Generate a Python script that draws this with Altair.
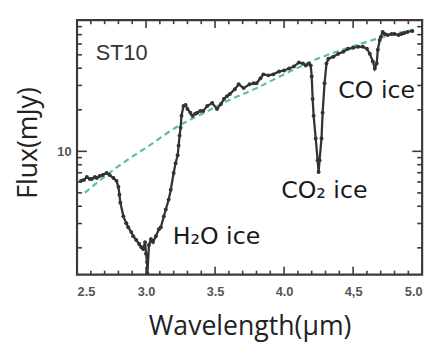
import altair as alt
import pandas as pd

# Spectrum of ST10 (wavelength in micron, flux in mJy)
wavelength = [2.529, 2.550, 2.571, 2.593, 2.607, 2.629, 2.643, 2.664, 2.686, 2.714,
              2.736, 2.764, 2.786, 2.800, 2.807, 2.814, 2.836, 2.857, 2.871, 2.893,
              2.907, 2.929, 2.950, 2.964, 2.979, 2.993, 3.000, 3.007, 3.010, 3.021,
              3.036, 3.050, 3.071, 3.093, 3.107, 3.129, 3.143, 3.164, 3.179, 3.200,
              3.214, 3.229, 3.236, 3.243, 3.250, 3.257, 3.271, 3.286, 3.300, 3.321,
              3.336, 3.357, 3.371, 3.393, 3.414, 3.443, 3.479, 3.514, 3.543, 3.564,
              3.586, 3.607, 3.643, 3.671, 3.707, 3.750, 3.779, 3.800, 3.829, 3.850,
              3.886, 3.921, 3.964, 4.000, 4.036, 4.071, 4.107, 4.136, 4.157, 4.179,
              4.193, 4.200, 4.207, 4.214, 4.229, 4.243, 4.250, 4.257, 4.271, 4.279,
              4.293, 4.307, 4.321, 4.357, 4.393, 4.429, 4.464, 4.500, 4.536, 4.571,
              4.600, 4.621, 4.643, 4.657, 4.671, 4.679, 4.693, 4.700, 4.714, 4.729,
              4.750, 4.779, 4.800, 4.829, 4.850, 4.871, 4.893, 4.929]
flux = [6.11, 6.21, 6.52, 6.31, 6.31, 6.52, 6.41, 6.63, 6.74, 6.96,
        6.74, 6.41, 6.11, 5.53, 4.85, 4.25, 3.38, 3.01, 2.82, 2.60,
        2.43, 2.28, 2.13, 2.03, 1.96, 2.20, 1.81, 1.58, 1.30, 2.10,
        2.31, 2.20, 2.43, 2.73, 2.82, 3.38, 3.79, 4.47, 5.27, 6.96,
        8.21, 9.36, 11.0, 13.0, 14.8, 18.1, 21.3, 21.7, 20.3, 19.0,
        18.1, 18.7, 19.0, 19.6, 19.6, 21.3, 22.4, 20.3, 22.0, 23.9,
        25.1, 26.0, 28.2, 30.6, 28.7, 30.6, 31.1, 31.1, 33.8, 36.1,
        35.5, 36.1, 37.9, 38.5, 39.8, 41.1, 44.0, 43.2, 41.8, 43.2,
        41.8, 34.9, 23.9, 18.1, 12.4, 8.62, 7.08, 8.62, 12.4, 19.0,
        31.1, 43.2, 46.9, 48.5, 50.9, 52.6, 55.3, 56.2, 57.2, 57.2,
        55.3, 50.9, 44.7, 39.8, 43.2, 54.4, 64.1, 67.4, 73.2, 70.8,
        69.6, 70.8, 70.8, 69.6, 70.8, 72.0, 73.2, 74.4]

# Continuum (dashed)
cont_wavelength = [2.557, 2.679, 2.800, 3.014, 3.250, 3.407, 3.586, 3.800,
                   4.014, 4.229, 4.443, 4.621, 4.764, 4.929]
cont_flux = [5.01, 6.31, 7.81, 10.86, 15.6, 18.7, 23.1, 28.7,
             36.7, 46.2, 55.3, 63.1, 69.6, 75.6]

# Tick values
x_major = [2.5, 3.0, 3.5, 4.0, 4.5, 5.0]
x_minor = [2.6, 2.7, 2.8, 2.9, 3.1, 3.2, 3.3, 3.4, 3.6, 3.7, 3.8, 3.9,
           4.1, 4.2, 4.3, 4.4, 4.6, 4.7, 4.8, 4.9]
y_major = [10]
y_minor = [2, 3, 4, 5, 6, 7, 8, 9, 20, 30, 40, 50, 60, 70, 80]

# Annotations
title_text = ["ST10"]
title_x = [2.636]
title_y = [46.2]
ann_text = ["H\u2082O ice", "CO\u2082 ice", "CO ice"]
ann_x = [3.193, 3.979, 4.393]
ann_y = [2.13, 4.61, 24.3]

W, H = 350, 258
xs = alt.Scale(domain=[2.5, 5.0], nice=False, zero=False)
ys = alt.Scale(type="log", domain=[1.28, 89.1], nice=False)
FRAME = "#3a3a3a"

spec = pd.DataFrame({"w": wavelength, "f": flux})
cont = pd.DataFrame({"w": cont_wavelength, "f": cont_flux})

axis_x = alt.Axis(values=x_major, labelExpr="datum.value == 4.5 ? '4,5' : format(datum.value, '.1f')",
                  tickSize=0, domain=False, grid=False, labelFont="Liberation Sans",
                  labelFontWeight="bold", labelFontSize=13, labelColor="#555",
                  labelPadding=11, title="Wavelength(\u00b5m)", titleFont="Open Sans",
                  titleFontSize=27, titleFontWeight="normal", titleColor="#222",
                  titlePadding=16)
axis_y = alt.Axis(values=y_major, format="d", tickSize=0, domain=False, grid=False,
                  labelFont="Liberation Sans", labelFontWeight="bold", labelFontSize=13,
                  labelColor="#555", labelPadding=6, title="Flux(mJy)",
                  titleFont="Open Sans", titleFontSize=27, titleFontWeight="normal",
                  titleColor="#222", titlePadding=15, titleY=124)

X = lambda f: alt.X(f, scale=xs, axis=axis_x)
Y = lambda f: alt.Y(f, scale=ys, axis=axis_y)

line = alt.Chart(spec).mark_line(
    color="#333", strokeWidth=2.3, clip=True,
    point=alt.OverlayMarkDef(filled=True, size=16, color="#333")
).encode(x=X("w:Q"), y=Y("f:Q"), order="w:Q")

dashed = alt.Chart(cont).mark_line(
    color="#5bbcae", strokeWidth=2.2, strokeDash=[6, 4], interpolate="monotone"
).encode(x=X("w:Q"), y=Y("f:Q"))


def xticks(vals, length):
    d = pd.DataFrame({"v": vals})
    bottom = alt.Chart(d).mark_rule(color=FRAME, strokeWidth=1.6).encode(
        x=X("v:Q"), y=alt.value(H), y2=alt.value(H - length))
    top = alt.Chart(d).mark_rule(color=FRAME, strokeWidth=1.6).encode(
        x=X("v:Q"), y=alt.value(0), y2=alt.value(length))
    return [bottom, top]


def yticks(vals, length):
    d = pd.DataFrame({"v": vals})
    left = alt.Chart(d).mark_rule(color=FRAME, strokeWidth=1.6).encode(
        y=Y("v:Q"), x=alt.value(0), x2=alt.value(length))
    right = alt.Chart(d).mark_rule(color=FRAME, strokeWidth=1.6).encode(
        y=Y("v:Q"), x=alt.value(W), x2=alt.value(W - length))
    return [left, right]


st = alt.Chart(pd.DataFrame({"t": title_text, "x": title_x, "y": title_y})).mark_text(
    font="Liberation Sans", fontSize=22, color="#333", align="left", baseline="alphabetic"
).encode(x=X("x:Q"), y=Y("y:Q"), text="t:N")

ann = alt.Chart(pd.DataFrame({"t": ann_text, "x": ann_x, "y": ann_y})).mark_text(
    font="DejaVu Sans", fontSize=24, color="#1a1a1a", align="left", baseline="alphabetic"
).encode(x=X("x:Q"), y=Y("y:Q"), text="t:N")

layers = [dashed, line] + xticks(x_major, 8) + xticks(x_minor, 4) + yticks(y_major, 10) + yticks(y_minor, 5) + [st, ann]

chart = alt.layer(*layers).properties(
    width=W, height=H,
    padding={"left": 70, "top": 10, "right": 10, "bottom": 66},
    autosize=alt.AutoSizeParams(type="none"),
).configure_view(stroke=FRAME, strokeWidth=2.2)

chart.save("out.html", embed_options={"renderer": "svg", "actions": False})
